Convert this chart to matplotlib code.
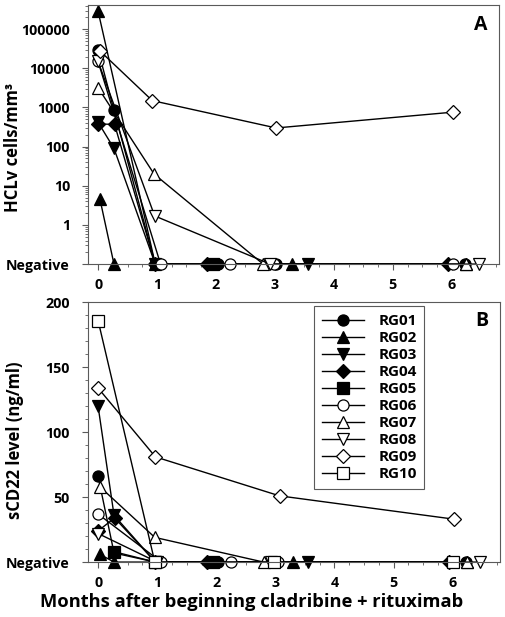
"""HCLv counts and soluble CD22 after cladribine + rituximab."""

import matplotlib

matplotlib.use("Agg")
import matplotlib.pyplot as plt
import numpy as np
from matplotlib.ticker import FixedLocator, LogLocator, MultipleLocator, NullFormatter

plt.rcParams["font.family"] = ["Open Sans", "DejaVu Sans"]
plt.rcParams["font.weight"] = "bold"

NEG_A = 0.1  # "Negative" on the log panel
NEG_B = 0.0  # "Negative" on the linear panel
nan = np.nan

patients = ["RG01", "RG02", "RG03", "RG04", "RG05", "RG06", "RG07", "RG08", "RG09", "RG10"]
markers = ["o", "^", "v", "D", "s", "o", "^", "v", "D", "s"]
filled = [True, True, True, True, True, False, False, False, False, False]

month_ticks = [0, 1, 2, 3, 4, 5, 6]
month_labels = ["0", "1", "2", "3", "4", "5", "6"]

# panel A: HCLv cells/mm3 (NEG_A = negative)
hclv_x = [
    [0, 0.27, 0.97, 2.03, 3.02, 6.22],
    [0.03, 0.27, nan, 0, 0.97, 3.29, 6.25],
    [0, 0.27, 0.97, 3.56],
    [0, 0.28, 0.97, 1.84, 5.94],
    [1.95],
    [0, 1.06, 2.23, 2.98, 6.02],
    [0, 0.95, 2.8, 6.25],
    [0, 0.96, 2.92, 6.46],
    [0.03, 0.92, 3.02, 6.02],
    [],
]
hclv_y = [
    [30000, 850, NEG_A, NEG_A, NEG_A, NEG_A],
    [4.7, NEG_A, nan, 290000, NEG_A, NEG_A, NEG_A],
    [420, 90, NEG_A, NEG_A],
    [380, 370, NEG_A, NEG_A, NEG_A],
    [NEG_A],
    [15000, NEG_A, NEG_A, NEG_A, NEG_A],
    [3200, 20, NEG_A, NEG_A],
    [15000, 1.7, NEG_A, NEG_A],
    [28000, 1500, 300, 760],
    [],
]

# panel B: sCD22 ng/ml (NEG_B = negative)
scd22_x = [
    [0, 0.27, 0.97, 2.03, 3.02, 6.22],
    [0.03, 0.27, 3.29, 6.25],
    [0, 0.27, 0.97, 3.56],
    [0, 0.28, 0.97, 1.84, 5.94],
    [0.27, 0.97, 1.95],
    [0, 1.07, 2.25, 3.05, 6.0],
    [0.03, 0.96, 2.8, 6.25],
    [0, 1.0, 2.92, 6.46],
    [0, 0.97, 3.07, 6.03],
    [0, 0.96, 2.98, 6.0],
]
scd22_y = [
    [66, 7, NEG_B, NEG_B, NEG_B, NEG_B],
    [6, NEG_B, NEG_B, NEG_B],
    [120, 36, NEG_B, NEG_B],
    [24, 34, NEG_B, NEG_B, NEG_B],
    [8, NEG_B, NEG_B],
    [37, NEG_B, NEG_B, NEG_B, NEG_B],
    [58, 19, NEG_B, NEG_B],
    [22, NEG_B, NEG_B, NEG_B],
    [134, 81, 51, 33],
    [186, NEG_B, NEG_B, NEG_B],
]

TICK_SIZE = 10.3
FRAME = "#5a5a5a"


def draw_series(ax, xs, ys):
    for name, mk, full, x, y in zip(patients, markers, filled, xs, ys):
        ms = 7 if mk == "D" else 8
        ax.plot(x, y, color="black", lw=1.0, marker=mk, ms=ms,
                mfc="black" if full else "white", mec="black", mew=0.9,
                label=name, clip_on=False)


def style_axes(ax):
    ax.set_xlim(-0.17, 6.8)
    ax.set_xticks(month_ticks)
    ax.set_xticklabels(month_labels)
    ax.xaxis.set_minor_locator(MultipleLocator(0.25))
    ax.tick_params(which="major", direction="out", length=4, width=0.8,
                   color=FRAME, labelsize=TICK_SIZE)
    ax.tick_params(axis="y", which="major", pad=9)
    ax.tick_params(axis="x", which="major", pad=6)
    ax.tick_params(which="minor", direction="out", length=2, width=0.6, color=FRAME)
    for side in ax.spines.values():
        side.set_color(FRAME)
        side.set_linewidth(0.8)


fig = plt.figure(figsize=(5.06, 6.17), dpi=100)

# --- panel A
ax_a = fig.add_axes([0.174, 0.572, 0.812, 0.420])
draw_series(ax_a, hclv_x, hclv_y)
ax_a.set_yscale("log")
ax_a.set_ylim(NEG_A, 10 ** 5.62)
ax_a.yaxis.set_major_locator(FixedLocator([NEG_A, 1, 10, 100, 1000, 10000, 100000]))
ax_a.set_yticklabels(["Negative", "1", "10", "100", "1000", "10000", "100000"])
ax_a.yaxis.set_minor_locator(LogLocator(base=10, subs=np.arange(2, 10)))
ax_a.yaxis.set_minor_formatter(NullFormatter())
style_axes(ax_a)
ax_a.set_ylabel("HCLv cells/mm³", fontsize=12, fontweight="bold")
ax_a.yaxis.set_label_coords(-0.16, 0.45)
ax_a.text(0.955, 0.923, "A", transform=ax_a.transAxes, fontsize=14, fontweight="bold",
          ha="center", va="center")

# --- panel B
ax_b = fig.add_axes([0.174, 0.089, 0.814, 0.421])
draw_series(ax_b, scd22_x, scd22_y)
ax_b.set_ylim(NEG_B, 200)
ax_b.set_yticks([NEG_B, 50, 100, 150, 200])
ax_b.set_yticklabels(["Negative", "50", "100", "150", "200"])
ax_b.yaxis.set_minor_locator(MultipleLocator(10))
style_axes(ax_b)
ax_b.set_ylabel("sCD22 level (ng/ml)", fontsize=12, fontweight="bold")
ax_b.yaxis.set_label_coords(-0.155, 0.47)
ax_b.set_xlabel("Months after beginning cladribine + rituximab", fontsize=13.2,
                fontweight="bold")
ax_b.xaxis.set_label_coords(0.396, -0.118)
ax_b.text(0.955, 0.93, "B", transform=ax_b.transAxes, fontsize=14, fontweight="bold",
          ha="center", va="center")
leg = ax_b.legend(loc="upper right", bbox_to_anchor=(0.816, 0.985), fontsize=11,
                  handlelength=2.8, handletextpad=0.9, labelspacing=0.2,
                  borderpad=0.5, borderaxespad=0, fancybox=False, framealpha=1)
leg.get_frame().set_edgecolor(FRAME)
leg.get_frame().set_linewidth(0.8)

fig.savefig("out.png", dpi=100)
